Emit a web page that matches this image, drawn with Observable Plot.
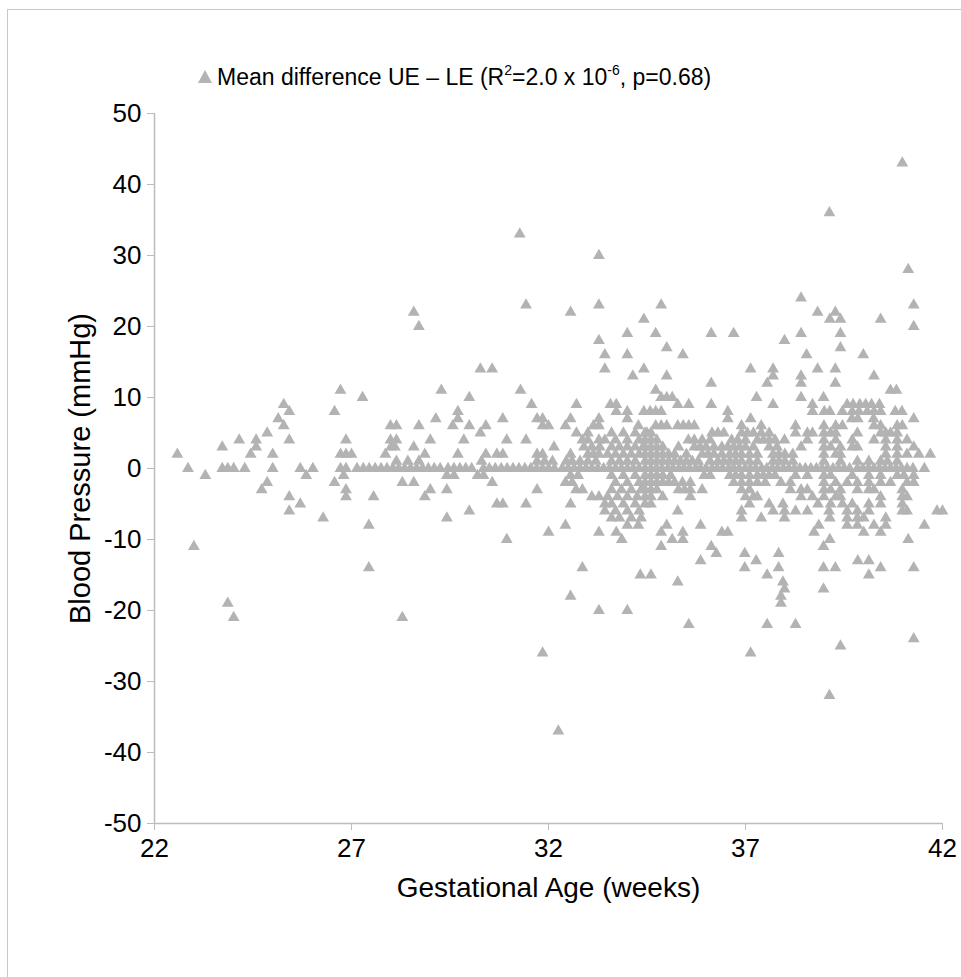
<!DOCTYPE html>
<html>
<head>
<meta charset="utf-8">
<script src="https://cdn.jsdelivr.net/npm/d3@7"></script>
<script src="https://cdn.jsdelivr.net/npm/@observablehq/plot@0.6"></script>
<style>
html, body { margin: 0; padding: 0; background: #fff; overflow: hidden; }
#wrap { position: relative; width: 961px; height: 977px; font-family: "Liberation Sans", Arial, sans-serif; }
#frame { position: absolute; left: 7px; top: 9px; width: 990px; height: 1000px; border: 1px solid #c8c8c8; box-sizing: border-box; pointer-events: none; }
#legtri { position: absolute; left: 198px; top: 70px; }
#legend { position: absolute; left: 217px; top: 64px; font-size: 23px; line-height: 26px; color: #000; white-space: nowrap; }
#legend sup { font-size: 14px; vertical-align: baseline; position: relative; top: -10px; }
#chart { position: absolute; left: 0; top: 0; }
</style>
</head>
<body>
<div id="wrap">
  <div id="chart"></div>
  <div id="frame"></div>
  <svg id="legtri" width="14" height="13"><polygon points="7,0 14,13 0,13" fill="#b3b3b3"></polygon></svg>
  <div id="legend">Mean difference UE – LE (R<sup>2</sup>=2.0 x 10<sup>-6</sup>, p=0.68)</div>
</div>
<script>
// Tick values
const xTicks = [22, 27, 32, 37, 42];
const yTicks = [-50, -40, -30, -20, -10, 0, 10, 20, 30, 40, 50];

// [gestational age (weeks), mean difference UE - LE (mmHg)]
const early = [
  [22.58,2],[22.85,0],[23.0,-11],[23.29,-1],[23.72,3],[23.72,0],[23.86,0],[24.01,0],[23.86,-19],[24.01,-21],
  [24.15,4],[24.29,0],[24.44,2],[24.58,4],[24.58,3],[24.72,-3],[24.86,5],[24.86,-2],[25.0,2],[25.0,0],
  [25.14,7],[25.28,9],[25.42,8],[25.28,6],[25.42,4],[25.42,-4],[25.42,-6],[25.7,0],[25.7,-5],[25.85,-1],
  [26.02,0],[26.28,-7],[26.57,8],[26.72,11],[26.72,2],[26.72,0],[26.57,-2],[26.86,4],[26.86,-3],[26.86,-4],
  [26.8,-1],[26.86,0],[26.86,2]
];

const midEarly = [
  [27.0,2],[27.28,10],[27.44,-8],[27.44,-14],[27.56,-4],[28.29,-21],[28.58,22],[28.71,20],[30.27,14],[30.57,14],
  [29.28,11],[29.99,10],[29.7,8],[29.7,7],[29.14,7],[27.99,6],[28.14,6],[28.71,6],[29.57,6],[29.99,6],
  [30.41,6],[30.27,5],[30.84,7],[27.99,4],[28.14,4],[29.0,4],[29.85,4],[30.94,4],[28.0,3],[28.1,3],
  [28.58,3],[27.86,2],[28.86,2],[29.7,2],[30.41,2],[30.69,2],[30.84,2],[28.14,1],[28.43,1],[28.71,1],
  [30.3,1],[28.29,-2],[28.58,-2],[29.0,-3],[28.86,-4],[29.42,-3],[29.42,-7],[29.99,-6],[30.57,-2],[30.69,-5],
  [30.84,-5],[30.94,-10],[29.42,-1],[29.6,-1],[30.2,-1],[30.35,-1],
  [27.14,0],[27.3,0],[27.45,0],[27.6,0],[27.75,0],[27.9,0],[28.05,0],[28.2,0],[28.35,0],[28.5,0],
  [28.65,0],[28.8,0],[28.95,0],[29.1,0],[29.25,0],[29.45,0],[29.6,0],[29.75,0],[29.9,0],[30.05,0],
  [30.35,0],[30.5,0],[30.65,0],[30.8,0]
];

const mid = [
  [33.28,30],[31.27,33],[31.43,23],[32.56,22],[33.28,23],[33.28,18],[33.43,16],[33.43,14],[31.29,11],[31.57,9],
  [32.71,9],[31.71,7],[31.85,7],[31.85,6],[32.0,6],[32.56,7],[32.43,6],[33.28,7],[33.14,6],[33.28,6],
  [32.71,5],[33.0,5],[32.86,4],[33.0,4],[33.28,4],[33.43,4],[31.43,4],[32.14,3],[31.71,2],[31.85,2],
  [32.56,2],[33.0,2],[33.14,2],[33.28,2],
  [30.95,0],[31.1,0],[31.25,0],[31.4,0],[31.55,0],[31.7,0],[31.85,0],[32.0,0],[32.15,0],[32.35,0],
  [32.5,0],[32.65,0],[32.8,0],[32.95,0],[33.1,0],[33.25,0],[33.4,0],
  [31.71,1],[31.9,1],[32.1,1],[32.45,1],[32.6,1],[32.8,1],[33.0,1],[33.2,1],
  [32.9,3],[33.1,3],[33.3,3],
  [31.71,-3],[31.43,-5],[32.56,-5],[32.43,-2],[32.56,-1],[32.7,-3],[32.86,-3],[33.1,-4],[33.28,-4],[33.43,-5],
  [33.43,-6],[33.28,-9],[32.43,-8],[32.0,-9],[32.86,-14],[32.56,-18],[33.28,-20],[31.85,-26],[32.25,-37],[32.6,-2],
  [32.75,-1],
  [33.6,5],[33.9,5],[34.2,5],[34.5,5],
  [33.7,4],[34.0,4],[34.3,4],
  [33.6,3],[33.8,3],[34.0,3],[34.2,3],[34.4,3],
  [33.5,2],[33.7,2],[33.9,2],[34.1,2],[34.3,2],
  [33.6,1],[33.8,1],[34.0,1],[34.2,1],
  [33.55,0],[33.7,0],[33.85,0],[34.0,0],[34.15,0],[34.3,0],
  [33.6,-1],[33.9,-1],[34.2,-1],
  [33.7,-2],[34.0,-2],[34.3,-2],
  [33.6,-3],[33.85,-3],[34.1,-3],[34.35,-3],
  [33.5,-4],[33.75,-4],[34.0,-4],[34.25,-4],
  [33.6,-5],[33.9,-5],[34.2,-5],
  [33.7,-6],[34.0,-6],[34.3,-6],
  [33.6,-7],[33.8,-7],[34.1,-7],[34.35,-7],
  [34.0,19],[34.42,21],[34.0,16],[34.42,14],[34.14,13],[33.57,9],[33.72,9],[33.72,8],[34.0,8],[34.42,8],
  [34.0,7],[34.28,6],[33.72,-9],[33.86,-10],[34.0,-8],[34.28,-8],[34.33,-15],[34.6,-15],[34.0,-20]
];

const midLate = [
  [34.86,23],[34.72,19],[35.0,17],[35.41,16],[36.13,19],[36.7,19],[37.99,18],[35.0,13],[37.13,14],[37.7,14],
  [37.7,13],[37.55,12],[36.13,12],[34.72,11],[37.28,10],[34.86,10],[35.0,10],[35.14,10],[35.28,9],[35.56,9],
  [36.13,9],[37.7,9],[34.58,8],[34.72,8],[34.86,8],[36.55,8],[36.55,7],[34.72,6],[34.86,6],[35.0,6],
  [35.28,6],[35.42,6],[35.56,6],[35.7,6],[37.13,7],[36.9,6],[37.4,6],
  [35.28,-6],[34.86,-9],[35.0,-8],[35.41,-9],[35.14,-10],[35.41,-10],[35.86,-8],[34.86,-11],[36.13,-11],[36.26,-12],
  [36.4,-9],[36.55,-9],[35.86,-13],[36.98,-12],[36.98,-14],[37.27,-13],[37.55,-15],[37.84,-12],[37.84,-14],[37.95,-16],
  [37.99,-17],[37.9,-18],[37.9,-19],[35.28,-16],[35.56,-22],[37.55,-22],[37.13,-26],[36.9,-6],[36.9,-7],[37.4,-7],
  [37.7,-6],[37.99,-7],
  [34.45,5],[34.6,5],[36.15,5],[36.3,5],[36.45,5],[36.9,5],[37.05,5],[37.2,5],[37.4,5],[37.6,5],
  [34.45,4],[34.6,4],[34.75,4],[35.55,4],[35.7,4],[35.9,4],[36.1,4],[36.65,4],[36.8,4],[37.0,4],
  [37.3,4],[37.45,4],[37.6,4],[37.75,4],
  [34.45,3],[34.6,3],[34.75,3],[34.9,3],[35.3,3],[35.7,3],[35.85,3],[36.0,3],[36.2,3],[36.4,3],
  [36.55,3],[36.7,3],[36.85,3],[37.0,3],[37.2,3],[37.6,3],[37.8,3],
  [34.45,2],[34.6,2],[34.75,2],[34.9,2],[35.05,2],[35.2,2],[35.5,2],[35.9,2],[36.05,2],[36.2,2],
  [36.4,2],[36.6,2],[36.75,2],[36.9,2],[37.1,2],[37.3,2],[37.7,2],[37.85,2],[38.0,2],[38.2,2],
  [34.45,1],[34.6,1],[34.75,1],[34.9,1],[35.05,1],[35.2,1],[35.35,1],[35.5,1],[35.65,1],[35.8,1],
  [36.1,1],[36.3,1],[36.45,1],[36.6,1],[36.75,1],[36.9,1],[37.1,1],[37.3,1],[37.7,1],[37.85,1],
  [38.0,1],[38.2,1],
  [34.45,0],[34.6,0],[34.74,0],[34.88,0],[35.03,0],[35.16,0],[35.31,0],[35.44,0],[35.58,0],[35.73,0],
  [35.86,0],[36.0,0],[36.15,0],[36.28,0],[36.42,0],[36.57,0],[36.7,0],[36.84,0],[36.99,0],[37.12,0],
  [37.26,0],[37.41,0],[37.54,0],[37.68,0],[37.82,0],
  [34.45,-1],[34.6,-1],[34.75,-1],[34.9,-1],[35.1,-1],[35.95,-1],[36.1,-1],[36.6,-1],[36.75,-1],[36.9,-1],
  [37.1,-1],[37.3,-1],[37.45,-1],[37.6,-1],[37.75,-1],
  [34.45,-2],[34.6,-2],[34.75,-2],[34.9,-2],[35.05,-2],[35.2,-2],[35.4,-2],[35.6,-2],[36.7,-2],[36.9,-2],
  [37.1,-2],[37.3,-2],[37.5,-2],
  [34.45,-3],[34.6,-3],[34.75,-3],[35.3,-3],[35.45,-3],[35.6,-3],[35.9,-3],[36.9,-3],[37.1,-3],
  [34.45,-4],[34.6,-4],[34.9,-4],[35.6,-4],[37.0,-4],[37.2,-4],[37.3,-4],
  [34.45,-5],[34.6,-5],[37.1,-5],[37.6,-5],[37.95,-5]
];

const late = [
  [40.98,43],[39.13,36],[41.13,28],[38.41,24],[38.83,22],[39.14,21],[39.28,22],[39.41,21],[40.43,21],[41.27,23],
  [41.27,20],[38.41,19],[39.41,19],[39.41,17],[38.55,16],[39.99,16],[38.83,14],[39.28,14],[38.41,13],[38.41,12],
  [39.28,12],[40.26,13],[40.68,11],[40.83,11],[38.41,10],[38.98,10],[38.7,9],[38.7,8],[39.0,8],[39.14,8],
  [41.27,7],[40.8,8],[40.97,8],[38.27,6],[38.27,5],[41.69,2],[41.54,0],[41.86,-6],[42.0,-6],[41.54,-8],
  [41.13,-10],[41.27,-14],[38.98,-14],[39.28,-14],[39.85,-13],[40.13,-13],[40.43,-14],[40.13,-15],[38.98,-17],[38.27,-22],
  [39.41,-25],[41.27,-24],[39.13,-32],[38.98,-11],[39.14,-10],
  [39.58,9],[39.73,9],[39.9,9],[40.05,9],[40.2,9],[40.4,9],
  [39.46,8],[39.71,8],[39.88,8],[40.09,8],[40.26,8],[40.43,8],
  [39.7,7],[39.85,7],[40.25,7],
  [38.99,6],[39.29,6],[39.46,6],[40.26,6],[40.43,6],[40.85,6],[40.98,6],
  [38.57,5],[38.7,5],[38.99,5],[39.16,5],[39.29,5],[39.84,5],[40.43,5],[40.56,5],[40.68,5],[40.85,5],
  [37.99,4],[38.57,4],[38.99,4],[39.29,4],[39.71,4],[40.26,4],[40.56,4],[40.85,4],[41.1,4],
  [38.41,3],[38.99,3],[39.16,3],[39.41,3],[39.71,3],[39.84,3],[40.56,3],[40.85,3],[41.27,3],
  [38.99,2],[39.29,2],[39.41,2],[40.56,2],[40.85,2],[41.1,2],[41.4,2],
  [38.99,1],[39.41,1],[39.84,1],[40.13,1],[40.43,1],[40.6,1],[40.85,1],
  [37.96,0],[38.1,0],[38.24,0],[38.38,0],[38.52,0],[38.66,0],[38.8,0],[38.94,0],[39.08,0],[39.22,0],
  [39.36,0],[39.5,0],[39.64,0],[39.84,0],[39.98,0],[40.12,0],[40.26,0],[40.4,0],[40.54,0],[40.68,0],
  [40.82,0],[40.96,0],[41.1,0],[41.25,0],
  [38.27,-1],[38.57,-1],[38.99,-1],[39.16,-1],[39.71,-1],[40.13,-1],[40.43,-1],[40.85,-1],[41.02,-1],[41.27,-1],
  [37.9,-2],[38.14,-2],[38.99,-2],[39.29,-2],[39.58,-2],[39.84,-2],[40.13,-2],[40.43,-2],[40.68,-2],[41.1,-2],
  [41.27,-2],
  [38.14,-3],[38.41,-3],[38.57,-3],[38.99,-3],[39.16,-3],[39.41,-3],[39.84,-3],[40.13,-3],[40.26,-3],[40.98,-3],
  [38.41,-4],[38.7,-4],[38.99,-4],[39.29,-4],[39.41,-4],[40.43,-4],[40.98,-4],[41.1,-4],
  [38.84,-5],[39.16,-5],[39.46,-5],[39.71,-5],[40.13,-5],[40.43,-5],[40.98,-5],
  [37.99,-6],[38.27,-6],[38.57,-6],[39.12,-6],[39.58,-6],[39.84,-6],[40.13,-6],[40.98,-6],[41.1,-6],
  [39.14,-7],[39.58,-7],[39.84,-7],[40.0,-7],[40.56,-7],
  [38.86,-8],[39.58,-8],[39.84,-8],[40.26,-8],[40.56,-8],
  [38.74,-9],[40.0,-9],[40.43,-9]
];

const points = [...early, ...midEarly, ...mid, ...midLate, ...late].map(([age, bp]) => ({age, bp}));

const axisGray = "#bdbdbd";
const markerGray = "#b3b3b3";

const chart = Plot.plot({
  width: 961,
  height: 977,
  marginLeft: 154,
  marginRight: 19,
  marginTop: 113,
  marginBottom: 154,
  style: {
    fontFamily: '"Liberation Sans", Arial, sans-serif',
    fontSize: "26px",
    color: "#000",
    background: "transparent",
    overflow: "visible"
  },
  x: {domain: [22, 42]},
  y: {domain: [-50, 50]},
  marks: [
    Plot.axisX({ticks: xTicks, tickSize: 7, tickPadding: 8, stroke: axisGray, fill: "#000", tickFormat: d => String(d), label: null}),
    Plot.axisY({ticks: yTicks, tickSize: 7, tickPadding: 6, stroke: axisGray, fill: "#000", tickFormat: d => String(d), label: null}),
    Plot.ruleY([-50], {stroke: axisGray, strokeWidth: 1.5}),
    Plot.ruleX([22], {stroke: axisGray, strokeWidth: 1.5}),
    Plot.dot(points, {x: "age", y: "bp", symbol: "triangle", r: 4.4, fill: markerGray}),
    Plot.text(["Blood Pressure (mmHg)"], {text: d => d, frameAnchor: "left", dx: -74, rotate: -90, textAnchor: "middle", lineAnchor: "middle", fontSize: 29, fill: "#000"}),
    Plot.text(["Gestational Age (weeks)"], {text: d => d, frameAnchor: "bottom", dy: 65, textAnchor: "middle", lineAnchor: "middle", fontSize: 28, fill: "#000"})
  ]
});
document.getElementById("chart").appendChild(chart);
</script>
</body>
</html>
